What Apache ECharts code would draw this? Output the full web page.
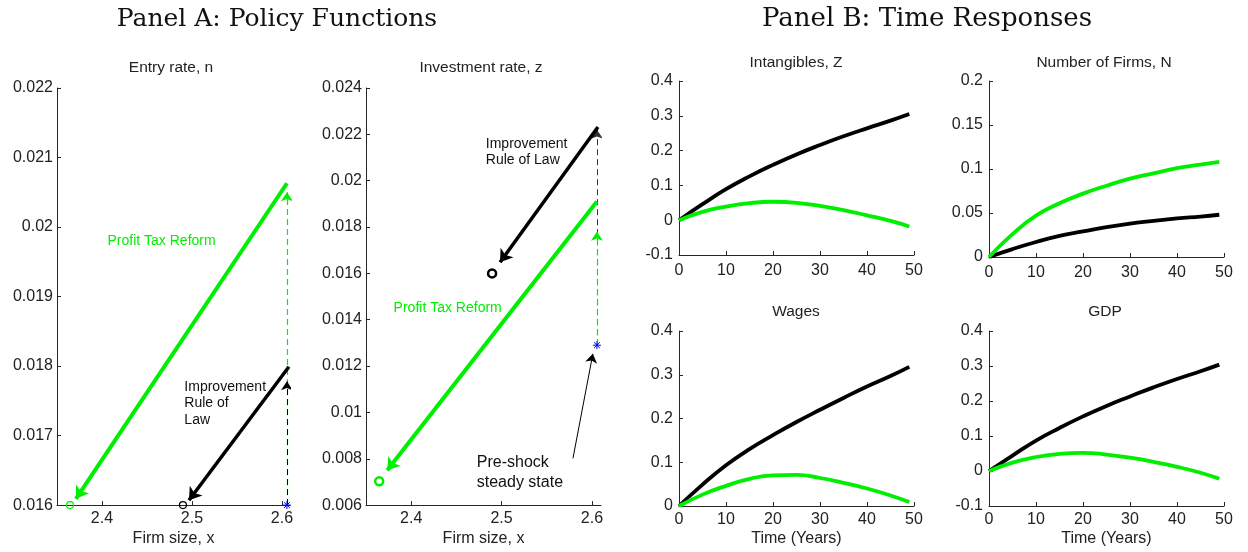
<!DOCTYPE html>
<html>
<head>
<meta charset="utf-8">
<script src="https://cdn.jsdelivr.net/npm/echarts@6/dist/echarts.min.js"></script>
<style>
  html, body { margin: 0; padding: 0; background: #fff; }
  #chart { width: 1248px; height: 552px; }
</style>
</head>
<body>
<div id="chart"></div>
<script>
// ---- Panel A: policy functions (firm size x, rate) ----
// entry rate n
var nSteady = [2.6056, 0.016];      // pre-shock steady state
var nTaxEnd = [2.3644, 0.016];      // after profit tax reform
var nRolEnd = [2.490, 0.016];       // after rule of law improvement
var nTaxJump = [2.6056, 0.02063];   // on impact, tax reform
var nRolJump = [2.6078, 0.01799];   // on impact, rule of law
var nTaxTip = [2.371, 0.01609];
var nRolTip = [2.4967, 0.01607];
var nTaxDashTip = 0.0205;
var nRolDashTip = 0.01778;

// investment rate z
var zSteady = [2.6055, 0.0129];
var zTaxEnd = [2.3646, 0.00703];
var zRolEnd = [2.4895, 0.016];
var zTaxJump = [2.6055, 0.0191];
var zRolJump = [2.6066, 0.02232];
var zTaxTip = [2.3735, 0.0075];
var zRolTip = [2.4983, 0.01648];
var zTaxDashTip = 0.0178;
var zRolDashTip = 0.0222;
var zNoteArrow = [[2.579, 0.00802], [2.601, 0.01253]];

var sizeTicks = [2.4, 2.5, 2.6];

// ---- Panel B: time responses ----
var years = [0, 5, 10, 15, 20, 25, 30, 35, 40, 45, 49];
var intangRol = [0, 0.046, 0.089, 0.126, 0.159, 0.189, 0.216, 0.241, 0.264, 0.286, 0.305];
var intangTax = [0, 0.024, 0.039, 0.049, 0.053, 0.050, 0.041, 0.029, 0.014, -0.002, -0.018];
var firmsRol  = [0, 0.009, 0.017, 0.024, 0.029, 0.034, 0.038, 0.041, 0.044, 0.046, 0.048];
var firmsTax  = [0, 0.026, 0.047, 0.061, 0.072, 0.081, 0.089, 0.095, 0.101, 0.105, 0.108];
var wagesRol  = [0, 0.049, 0.093, 0.130, 0.162, 0.192, 0.220, 0.247, 0.273, 0.297, 0.318];
var wagesTax  = [0, 0.026, 0.046, 0.062, 0.070, 0.071, 0.064, 0.053, 0.040, 0.024, 0.009];
var gdpRol    = [0, 0.044, 0.087, 0.123, 0.156, 0.186, 0.213, 0.239, 0.263, 0.285, 0.304];
var gdpTax    = [0, 0.024, 0.040, 0.049, 0.052, 0.047, 0.038, 0.026, 0.012, -0.005, -0.022];

var GREEN = '#00ee00';
var INK = '#222222';
var SANS = '"Liberation Sans", Arial, sans-serif';

function zip(xs, ys) {
    return xs.map(function (x, i) { return [x, ys[i]]; });
}

function xAxisOf(grid, min, max, opt) {
    var ax = {
        gridIndex: grid, type: 'value', min: min, max: max,
        axisLine: { show: true, onZero: false, lineStyle: { color: '#262626', width: 1 } },
        axisTick: { show: true, inside: true, length: 4, lineStyle: { color: '#262626' } },
        splitLine: { show: false },
        axisLabel: { color: INK, fontFamily: SANS, fontSize: 16, margin: opt.margin || 6 }
    };
    if (opt.interval) ax.interval = opt.interval;
    if (opt.custom) {
        ax.axisTick.customValues = opt.custom;
        ax.axisLabel.customValues = opt.custom;
    }
    if (opt.name) {
        ax.name = opt.name;
        ax.nameLocation = 'middle';
        ax.nameGap = opt.nameGap || 24;
        ax.nameTextStyle = { color: INK, fontFamily: SANS, fontSize: 16 };
    }
    return ax;
}

function yAxisOf(grid, min, max, interval, margin) {
    return {
        gridIndex: grid, type: 'value', min: min, max: max, interval: interval,
        axisLine: { show: true, onZero: false, lineStyle: { color: '#262626', width: 1 } },
        axisTick: { show: true, inside: true, length: 4, lineStyle: { color: '#262626' } },
        splitLine: { show: false },
        axisLabel: { color: INK, fontFamily: SANS, fontSize: 16, margin: margin }
    };
}

function arrow(grid, from, to, color, width, dashed, head) {
    return {
        type: 'lines', coordinateSystem: 'cartesian2d',
        xAxisIndex: grid, yAxisIndex: grid, silent: true, z: 3,
        symbol: ['none', 'arrow'], symbolSize: head,
        lineStyle: { color: color, width: width, type: dashed ? [6, 4] : 'solid', opacity: 1, curveness: 0 },
        data: [{ coords: [from, to] }]
    };
}

function marker(grid, pt, symbol, size, color, width) {
    return {
        type: 'scatter', xAxisIndex: grid, yAxisIndex: grid, silent: true, clip: false, z: 4,
        symbol: symbol, symbolSize: size,
        itemStyle: { color: 'rgba(0,0,0,0)', borderColor: color, borderWidth: width, opacity: 1 },
        data: [pt]
    };
}

function note(grid, pt, text, color, size, lh) {
    return {
        type: 'scatter', xAxisIndex: grid, yAxisIndex: grid, silent: true, clip: false, z: 5,
        symbolSize: 1, itemStyle: { color: 'rgba(0,0,0,0)', opacity: 1 },
        label: {
            show: true, position: 'right', distance: 0, formatter: text, opacity: 1,
            color: color, fontFamily: SANS, fontSize: size, lineHeight: lh, align: 'left'
        },
        data: [pt]
    };
}

function curve(grid, ys, color) {
    return {
        type: 'line', xAxisIndex: grid, yAxisIndex: grid, silent: true,
        data: zip(years, ys), smooth: 0.5, symbol: 'none',
        lineStyle: { color: color, width: 3.8 }, z: 3
    };
}

var STAR = 'path://M0,-5L0,5M-5,0L5,0M-3.6,-3.6L3.6,3.6M3.6,-3.6L-3.6,3.6';

var grids = [
    { left: 57, top: 88, width: 233, height: 419 },
    { left: 366, top: 88, width: 235, height: 419 },
    { left: 679, top: 81, width: 235, height: 174 },
    { left: 989, top: 81, width: 235, height: 176 },
    { left: 679, top: 331, width: 235, height: 175 },
    { left: 989, top: 331, width: 235, height: 175 }
];

var titles = [
    ['Entry rate, n', 171, 68],
    ['Investment rate, z', 481, 68],
    ['Intangibles, Z', 796, 63],
    ['Number of Firms, N', 1104, 63],
    ['Wages', 796, 312],
    ['GDP', 1105, 312]
];

var graphics = titles.map(function (t) {
    return {
        type: 'text', x: t[1], y: t[2], silent: true,
        style: { text: t[0], font: '15.5px ' + SANS, fill: INK, align: 'center', verticalAlign: 'middle' }
    };
});
graphics.push({
    type: 'text', x: 277, y: 19, silent: true,
    style: { text: 'Panel A: Policy Functions', font: '25px "DejaVu Serif", serif', fill: '#111', align: 'center', verticalAlign: 'middle' }
});
graphics.push({
    type: 'text', x: 927, y: 19, silent: true,
    style: { text: 'Panel B: Time Responses', font: '26px "DejaVu Serif", serif', fill: '#111', align: 'center', verticalAlign: 'middle' }
});

var option = {
    animation: false,
    backgroundColor: '#fff',
    grid: grids,
    xAxis: [
        xAxisOf(0, 2.35, 2.609, { custom: sizeTicks, name: 'Firm size, x', margin: 5 }),
        xAxisOf(1, 2.35, 2.61, { custom: sizeTicks, name: 'Firm size, x', margin: 5 }),
        xAxisOf(2, 0, 50, { interval: 10, margin: 8 }),
        xAxisOf(3, 0, 50, { interval: 10, margin: 8 }),
        xAxisOf(4, 0, 50, { interval: 10, name: 'Time (Years)', margin: 6, nameGap: 25 }),
        xAxisOf(5, 0, 50, { interval: 10, name: 'Time (Years)', margin: 6, nameGap: 25 })
    ],
    yAxis: [
        yAxisOf(0, 0.016, 0.022, 0.001, 4),
        yAxisOf(1, 0.006, 0.024, 0.002, 4),
        yAxisOf(2, -0.1, 0.4, 0.1, 6),
        yAxisOf(3, 0, 0.2, 0.05, 6),
        yAxisOf(4, 0, 0.4, 0.1, 6),
        yAxisOf(5, -0.1, 0.4, 0.1, 6)
    ],
    graphic: graphics,
    series: [
        // entry rate
        arrow(0, nSteady, [nSteady[0], nTaxDashTip], GREEN, 1.2, true, [0, 9]),
        arrow(0, nSteady, [nSteady[0], nRolDashTip], '#000', 1, true, [0, 9]),
        arrow(0, nTaxJump, nTaxTip, GREEN, 4, false, [0, 12]),
        arrow(0, nRolJump, nRolTip, '#000', 3.5, false, [0, 12]),
        marker(0, nTaxEnd, 'circle', 7, GREEN, 1.2),
        marker(0, nRolEnd, 'circle', 7, '#000', 1.2),
        marker(0, nSteady, STAR, 8, '#0000ff', 1),
        note(0, [2.4056, 0.0198], 'Profit Tax Reform', GREEN, 14, 16),
        note(0, [2.491, 0.01746], 'Improvement\nRule of\nLaw', '#111', 14, 16.5),
        // investment rate
        arrow(1, zSteady, [zSteady[0], zRolDashTip], '#333', 1, true, [0, 9]),
        arrow(1, zSteady, [zSteady[0], zTaxDashTip], GREEN, 1.2, true, [0, 9]),
        arrow(1, zRolJump, zRolTip, '#000', 3.5, false, [0, 12]),
        arrow(1, zTaxJump, zTaxTip, GREEN, 4, false, [0, 12]),
        arrow(1, zNoteArrow[0], zNoteArrow[1], '#000', 1, false, [0, 9]),
        marker(1, zTaxEnd, 'circle', 8, GREEN, 2.5),
        marker(1, zRolEnd, 'circle', 8, '#000', 2.5),
        marker(1, zSteady, STAR, 8, '#0000ff', 1),
        note(1, [2.482, 0.02125], 'Improvement\nRule of Law', '#111', 14, 16),
        note(1, [2.38, 0.0145], 'Profit Tax Reform', GREEN, 14, 16),
        note(1, [2.472, 0.0074], 'Pre-shock\nsteady state', '#111', 16, 19.5),
        // time responses
        curve(2, intangRol, '#000'), curve(2, intangTax, GREEN),
        curve(3, firmsRol, '#000'), curve(3, firmsTax, GREEN),
        curve(4, wagesRol, '#000'), curve(4, wagesTax, GREEN),
        curve(5, gdpRol, '#000'), curve(5, gdpTax, GREEN)
    ]
};

echarts.init(document.getElementById('chart')).setOption(option);
</script>
</body>
</html>
